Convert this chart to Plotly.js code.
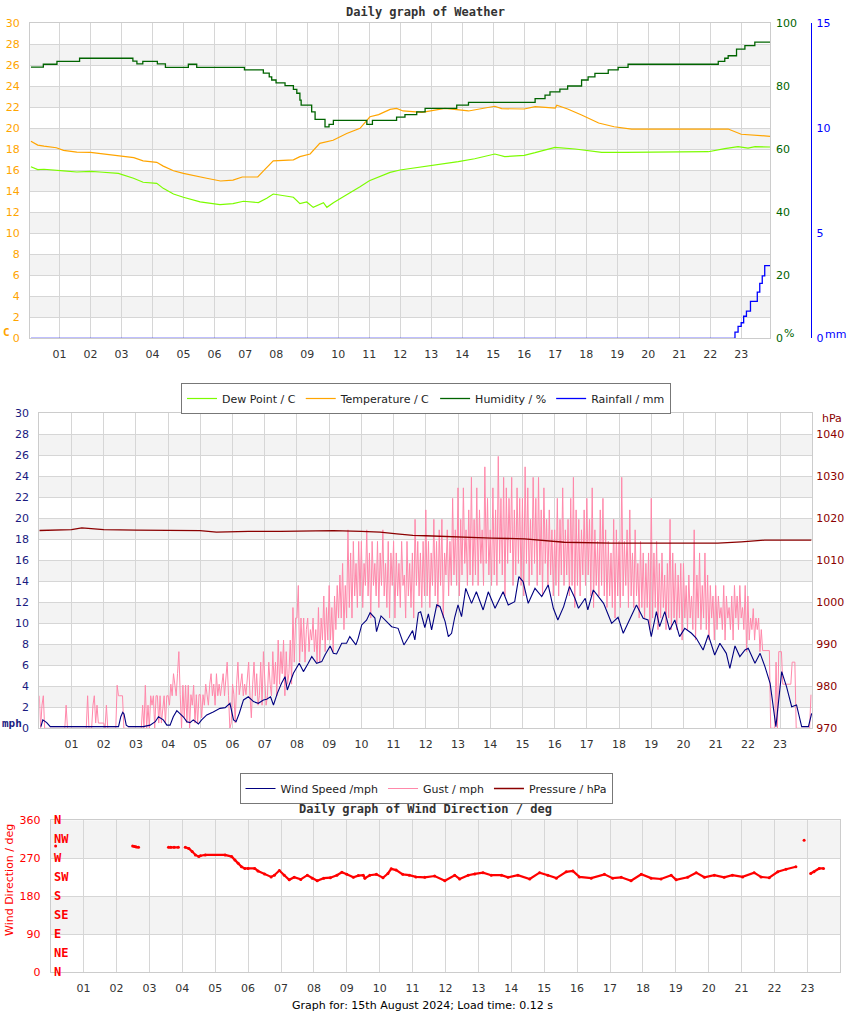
<!DOCTYPE html>
<html>
<head>
<meta charset="utf-8">
<script src="https://cdn.plot.ly/plotly-3.0.1.min.js"></script>
<style>
  html, body { margin: 0; padding: 0; background: #fff; }
  #chart { width: 850px; height: 1017px; }
</style>
</head>
<body>
<div id="chart"></div>
<script>
// hour ticks shared by all three panels
const hourTicks = [1, 2, 3, 4, 5, 6, 7, 8, 9, 10, 11, 12, 13, 14, 15, 16, 17, 18, 19, 20, 21, 22, 23];
const hourLabels = ["01", "02", "03", "04", "05", "06", "07", "08", "09", "10", "11", "12",
  "13", "14", "15", "16", "17", "18", "19", "20", "21", "22", "23"];

// --- weather panel ---
const tempHours = [0.08, 0.3, 0.5, 0.9, 1.13, 1.56, 2.0, 2.3, 2.96, 3.4, 3.7, 4.14, 4.35, 4.68, 5.0, 5.3,
  5.75, 6.2, 6.6, 6.9, 7.4, 7.6, 7.9, 8.55, 8.76, 9.09, 9.2, 9.4, 9.83, 10.27, 10.7, 11.02, 11.3, 11.67,
  11.88, 12.09, 12.7, 13.44, 14.2, 15.05, 15.27, 16.0, 16.35, 17.0, 17.05, 17.4, 17.85, 18.4, 18.9,
  19.46, 20.3, 21.5, 22.58, 23.0, 23.55, 23.93];
const tempValues = [18.76, 18.4, 18.3, 18.15, 17.9, 17.74, 17.7, 17.6, 17.4, 17.2, 16.9, 16.76, 16.4,
  15.96, 15.7, 15.5, 15.24, 14.98, 15.07, 15.36, 15.36, 16.0, 16.9, 17.0, 17.3, 17.55, 17.93, 18.57,
  18.86, 19.5, 20.0, 21.1, 21.3, 21.8, 21.9, 21.65, 21.52, 21.9, 21.65, 22.1, 21.87, 21.84, 22.06,
  21.93, 22.2, 21.84, 21.27, 20.5, 20.15, 19.93, 19.93, 19.93, 19.93, 19.43, 19.3, 19.24];

const dewHours = [0.08, 0.3, 0.5, 0.9, 1.13, 1.56, 2.0, 2.3, 2.9, 3.39, 3.7, 4.14, 4.35, 4.68, 5.0, 5.54,
  6.18, 6.6, 6.94, 7.42, 7.69, 7.9, 8.23, 8.55, 8.76, 8.98, 9.19, 9.52, 9.63, 9.84, 10.16, 10.48, 10.7,
  11.0, 11.34, 11.67, 11.99, 12.74, 13.87, 14.4, 15.05, 15.37, 16.0, 16.35, 16.99, 17.64, 18.5, 19.25,
  21.94, 22.47, 22.9, 23.22, 23.45, 23.93];
const dewValues = [16.34, 16.06, 16.1, 16.03, 15.95, 15.84, 15.9, 15.84, 15.71, 15.24, 14.86, 14.76,
  14.28, 13.74, 13.43, 13.0, 12.73, 12.82, 13.05, 12.92, 13.33, 13.74, 13.55, 13.43, 12.82, 12.98,
  12.47, 12.92, 12.47, 12.92, 13.49, 14.03, 14.44, 15.0, 15.4, 15.8, 16.03, 16.34, 16.82, 17.1, 17.55,
  17.3, 17.43, 17.68, 18.19, 18.03, 17.71, 17.71, 17.77, 18.06, 18.25, 18.12, 18.25, 18.22];

const humHours = [0.08, 0.48, 0.92, 1.65, 3.37, 3.5, 3.69, 4.16, 4.42, 5.16, 5.43, 6.97, 7.58, 7.77,
  7.85, 7.99, 8.28, 8.55, 8.66, 8.76, 8.8, 9.14, 9.25, 9.57, 9.7, 9.84, 10.92, 11.1, 11.34, 11.88,
  12.15, 12.53, 12.8, 13.82, 14.2, 16.35, 16.67, 16.83, 17.15, 17.4, 17.85, 18.06, 18.28, 18.71,
  19.03, 19.35, 22.26, 22.47, 22.58, 22.85, 23.12, 23.44, 23.93];
const humValues = [86.1, 87.0, 87.9, 88.9, 88.0, 87.1, 87.9, 87.1, 86.0, 87.0, 86.0, 85.2, 84.2, 83.0,
  82.0, 81.1, 80.2, 79.0, 77.8, 75.6, 74.0, 71.9, 69.5, 67.1, 67.9, 69.2, 67.9, 69.2, 69.2, 70.2, 71.0,
  71.9, 73.0, 74.0, 74.9, 76.1, 77.2, 78.2, 79.1, 80.1, 82.0, 83.0, 84.1, 85.2, 86.0, 87.0, 87.9, 88.9,
  89.7, 91.8, 92.9, 94.0, 94.0];

const rainHours = [0.08, 22.74, 22.8, 22.9, 23.0, 23.08, 23.17, 23.3, 23.52, 23.6, 23.68, 23.76, 23.93];
const rainValues = [0, 0, 0.29, 0.57, 0.74, 1.05, 1.29, 1.76, 2.2, 2.62, 2.97, 3.46, 3.46];

// --- wind panel ---
const windHours = [0.05, 0.11, 0.23, 0.34, 2.46, 2.53, 2.59, 2.63, 2.7, 2.77, 3.23, 3.44, 3.6, 3.7, 3.85,
  3.96, 4.06, 4.16, 4.27, 4.37, 4.47, 4.58, 4.68, 4.78, 4.94, 5.04, 5.2, 5.4, 5.61, 5.77, 5.92, 6.03,
  6.11, 6.21, 6.34, 6.49, 6.65, 6.8, 6.96, 7.06, 7.18, 7.27, 7.39, 7.52, 7.63, 7.7, 7.89, 8.07, 8.2,
  8.35, 8.46, 8.61, 8.77, 8.87, 9.03, 9.13, 9.23, 9.39, 9.54, 9.64, 9.83, 9.9, 10.01, 10.16, 10.27,
  10.42, 10.47, 10.61, 10.78, 10.94, 11.14, 11.25, 11.32, 11.45, 11.59, 11.66, 11.77, 11.84, 11.97,
  12.08, 12.18, 12.34, 12.44, 12.6, 12.7, 12.8, 12.9, 13.0, 13.11, 13.24, 13.42, 13.57, 13.78, 13.94,
  14.15, 14.4, 14.56, 14.76, 14.89, 15.02, 15.18, 15.39, 15.6, 15.8, 15.96, 16.1, 16.28, 16.46, 16.63,
  16.74, 16.95, 17.03, 17.2, 17.36, 17.52, 17.77, 17.97, 18.13, 18.28, 18.54, 18.75, 18.9, 19.0,
  19.16, 19.26, 19.42, 19.57, 19.73, 19.88, 20.04, 20.25, 20.4, 20.61, 20.77, 20.97, 21.13, 21.33,
  21.44, 21.6, 21.75, 21.91, 22.01, 22.22, 22.38, 22.53, 22.69, 22.87, 23.05, 23.2, 23.36, 23.51,
  23.67, 23.88, 23.98];
const windValues = [0.16, 0.8, 0.54, 0.16, 0.16, 1.1, 1.52, 1.36, 0.3, 0.16, 0.16, 0.3, 0.63, 1.1, 0.8,
  0.3, 0.3, 1.1, 1.68, 1.43, 1.1, 0.63, 0.54, 0.8, 0.41, 0.8, 1.27, 1.56, 1.9, 1.97, 2.38, 0.8,
  0.63, 1.43, 2.7, 3.0, 2.54, 2.38, 2.7, 2.76, 3.0, 2.22, 3.33, 4.29, 4.92, 3.65, 5.24, 6.19, 5.4,
  6.19, 6.83, 6.19, 6.35, 6.98, 7.84, 7.14, 7.08, 8.1, 8.1, 8.73, 7.94, 8.57, 9.84, 10.3, 11.0,
  10.5, 9.2, 10.7, 10.16, 9.68, 9.52, 8.41, 7.94, 8.57, 9.3, 8.41, 11.0, 11.1, 9.6,
  10.9, 9.37, 11.75, 11.6, 10.16, 8.73, 9.05, 10.6, 11.75, 10.63, 13.33, 11.9, 13.0, 11.27, 13.0,
  11.43, 13.0, 11.75, 12.06, 14.44, 13.97, 11.9, 13.33, 12.54, 13.65, 11.43, 10.32, 11.59, 13.5, 12.38,
  11.43, 12.38, 11.27, 13.17, 12.54, 11.9, 10.0, 10.57, 9.05, 10.0, 11.75, 10.48, 10.32, 8.73,
  11.11, 9.68, 11.11, 9.37, 10.32, 8.73, 9.52, 9.05, 8.57, 7.46, 8.89, 6.98, 8.1, 7.14,
  5.71, 7.84, 6.83, 7.46, 7.62, 6.19, 7.14, 5.87, 4.29, 0.16, 5.4, 3.97, 2.06, 2.22,
  0.16, 0.16, 1.43];

// gust, one row per hour, one reading every 2.5 minutes
const gustRows = [
  [3.1, 0, 2.2, 3.1, 0, 0, 0, 0, 0, 0, 0, 0, 0, 0, 0, 0, 0, 0, 0, 0, 2.2, 0, 0, 0],
  [0, 0, 0, 0, 0, 0, 0, 0, 0, 0, 0, 0, 3.1, 0, 0, 0, 2.2, 3.1, 0.5, 2.2, 0.5, 0.5, 0.5, 0.5],
  [0.5, 0, 2.2, 0, 0, 0, 0, 0, 0, 0, 4.1, 3.1, 3.1, 3.1, 3.1, 0, 0, 0, 0, 0, 0, 0, 0, 0],
  [0, 0, 0, 0, 0, 2.2, 0, 4.1, 0, 2.2, 0, 3.1, 2.2, 3.1, 0, 3.1, 3.1, 0.5, 3.1, 0.5, 2.2, 3.1, 0.5, 3.1],
  [3.1, 2.2, 4.2, 3.1, 5.2, 4.2, 3.1, 5.2, 7.3, 3.2, 0, 4.1, 1.0, 4.1, 0.5, 4.1, 0, 3.2, 2.2, 4.1, 0.5, 3.2, 0.5, 3.2],
  [3.2, 1.0, 3.2, 2.2, 4.2, 3.2, 2.2, 4.2, 5.2, 3.1, 4.2, 2.2, 5.2, 3.1, 4.2, 3.1, 4.2, 5.2, 3.1, 5.2, 6.3, 3.1, 0, 0.5],
  [4.2, 3.2, 0.5, 4.2, 6.3, 3.2, 4.2, 5.2, 3.1, 4.2, 3.2, 5.2, 6.3, 3.1, 1.0, 4.2, 6.3, 3.1, 5.2, 2.2, 3.1, 6.3, 2.2, 7.3],
  [4.2, 2.2, 3.1, 6.3, 4.2, 3.1, 7.3, 4.2, 6.3, 3.1, 8.4, 4.2, 7.3, 5.2, 8.4, 3.1, 7.3, 4.2, 5.2, 8.4, 4.2, 11.5, 6.3, 10.5],
  [10.5, 13.6, 6.3, 10.5, 7.3, 10.5, 6.3, 9.4, 10.5, 7.3, 9.4, 8.4, 10.5, 7.3, 9.4, 6.3, 11.5, 6.3, 10.5, 8.4, 12.6, 7.3, 11.5, 8.4],
  [13.6, 8.4, 11.5, 7.3, 12.6, 9.4, 13.6, 10.5, 14.6, 10.5, 15.7, 9.4, 13.6, 10.5, 18.9, 11.5, 16.7, 10.5, 17.8, 12.6, 15.7, 11.5, 17.8, 12.6],
  [17.8, 11.5, 15.7, 13.6, 18.9, 12.6, 16.7, 10.5, 17.8, 13.6, 15.7, 12.6, 17.8, 11.5, 16.7, 13.6, 18.9, 12.6, 15.7, 11.5, 17.8, 10.5, 16.7, 13.6],
  [17.8, 10.5, 16.7, 12.6, 15.7, 11.5, 17.8, 13.6, 14.6, 10.5, 17.8, 12.6, 15.7, 11.5, 16.7, 10.5, 19.9, 13.6, 17.8, 12.6, 16.7, 11.5, 17.8, 12.6],
  [20.8, 12.6, 17.8, 11.5, 16.7, 13.6, 19.9, 12.6, 17.8, 11.5, 18.9, 13.6, 19.9, 10.5, 16.7, 14.6, 18.9, 12.6, 17.8, 13.6, 21.9, 14.6, 18.9, 13.6],
  [22.9, 12.6, 19.9, 14.6, 22.9, 15.7, 18.9, 13.6, 20.8, 14.6, 23.9, 13.6, 19.9, 14.6, 22.9, 13.6, 20.8, 15.7, 18.9, 13.6, 24.9, 15.7, 21.9, 14.6],
  [18.9, 13.6, 22.9, 14.6, 20.8, 13.6, 25.9, 15.7, 21.9, 14.6, 23.9, 12.6, 22.9, 15.7, 21.9, 16.7, 23.9, 13.6, 20.8, 14.6, 22.9, 15.7, 21.9, 13.6],
  [21.9, 12.6, 24.9, 15.7, 22.9, 13.6, 19.9, 14.6, 23.9, 15.7, 21.9, 13.6, 23.9, 14.6, 20.8, 12.6, 22.9, 15.7, 19.9, 13.6, 20.8, 14.6, 18.9, 12.6],
  [18.9, 13.6, 21.9, 12.6, 19.9, 14.6, 22.9, 13.6, 18.9, 14.6, 19.9, 12.6, 21.9, 13.6, 23.9, 11.5, 20.8, 13.6, 19.9, 12.6, 18.9, 14.6, 20.8, 13.6],
  [21.9, 14.6, 19.9, 12.6, 22.9, 11.5, 18.9, 13.6, 17.8, 12.6, 20.8, 13.6, 21.9, 12.6, 18.9, 11.5, 17.8, 12.6, 16.7, 11.5, 19.9, 10.5, 18.9, 12.6],
  [17.8, 11.5, 23.9, 12.6, 17.8, 13.6, 18.9, 11.5, 20.8, 12.6, 16.7, 11.5, 18.9, 12.6, 15.7, 10.5, 17.8, 11.5, 16.7, 10.5, 15.7, 11.5, 16.7, 9.4],
  [21.9, 10.5, 16.7, 11.5, 17.8, 9.4, 15.7, 10.5, 16.7, 11.5, 14.6, 9.4, 15.7, 10.5, 19.9, 9.4, 16.7, 10.5, 15.7, 9.4, 14.6, 10.5, 15.7, 8.4],
  [15.7, 10.5, 13.6, 9.4, 14.6, 10.5, 12.6, 9.4, 18.9, 8.4, 14.6, 10.5, 16.7, 9.4, 13.6, 10.5, 16.7, 9.4, 14.6, 8.4, 13.6, 10.5, 12.6, 8.4],
  [13.6, 9.4, 12.6, 10.5, 11.5, 9.4, 13.6, 8.4, 12.6, 10.5, 11.5, 9.4, 12.6, 8.4, 13.6, 10.5, 12.6, 9.4, 13.6, 10.5, 11.5, 9.4, 13.6, 7.3],
  [12.6, 8.4, 10.5, 9.4, 11.4, 8.4, 10.5, 9.4, 10.5, 7.3, 9.4, 7.4, 7.4, 7.4, 7.4, 7.4, 7.4, 0, 0, 0, 0, 6.3, 0, 7.3],
  [7.3, 7.3, 4.2, 4.2, 4.2, 4.2, 4.2, 4.2, 4.2, 6.3, 6.3, 6.3, 0, 0, 0, 0, 0, 0, 0, 0, 0, 0, 0, 3.2]
];

const presHours = [0, 1.0, 1.32, 2.0, 3.0, 4.0, 4.99, 5.5, 6.5, 7.5, 8.5, 9.13, 10.0, 10.58, 11.1, 11.6,
  12.0, 13.0, 14.04, 15.07, 16.3, 17.75, 19.0, 20.0, 21.07, 21.8, 22.52, 23.97];
const presValues = [1017.1, 1017.3, 1017.7, 1017.3, 1017.2, 1017.2, 1017.05, 1016.7, 1016.9, 1016.9,
  1017.0, 1017.05, 1016.9, 1016.7, 1016.3, 1015.95, 1015.85, 1015.5, 1015.3, 1015.1, 1014.3, 1014.1,
  1014.1, 1014.1, 1014.1, 1014.4, 1014.8, 1014.8];

// --- wind direction panel (null = no reading) ---
const dirHours = [0.15, 0.2, 2.49, 2.55, 2.6, 2.67, 2.7, 3.58, 3.65, 3.75, 3.88, 3.95, 4.09, 4.2, 4.3, 4.4,
  4.5, 4.55, 4.7, 5.3, 5.5, 5.6, 5.7, 5.8, 5.9, 6.0, 6.2, 6.3, 6.5, 6.7, 6.8, 6.95, 7.1, 7.25, 7.4, 7.6,
  7.8, 7.95, 8.1, 8.3, 8.5, 8.7, 8.85, 9.0, 9.2, 9.35, 9.5, 9.55, 9.7, 9.9, 10.1, 10.25, 10.35, 10.5,
  10.7, 10.9, 11.1, 11.37, 11.67, 11.98, 12.28, 12.43, 12.69, 12.89, 13.14, 13.39, 13.7, 13.9, 14.2,
  14.56, 14.86, 15.11, 15.37, 15.67, 15.87, 16.07, 16.43, 16.83, 17.08, 17.34, 17.64, 17.95, 18.25,
  18.55, 18.86, 19.01, 19.36, 19.62, 19.87, 20.17, 20.47, 20.72, 21.03, 21.38, 21.59, 21.84, 22.1,
  22.35, 22.65, 22.75, 22.9, 22.95, 23.1, 23.2, 23.36, 23.49];
const dirValues = [299, null, 299, 298, 297, 296, null, 296, 296, 296, 296, null, 296, 293, 286, 278,
  274, 276, 278, 278, 274, 266, 258, 250, 246, 246, 246, 240, 233, 226, 230, 241, 230, 219, 225, 220,
  230, 223, 217, 223, 224, 230, 237, 232, 225, 229, 230, 223, 230, 232, 224, 234, 245, 242,
  232, 230, 226, 225, 228, 217, 230, 221, 230, 233, 236, 230, 230, 225, 230,
  221, 236, 230, 223, 238, 240, 226, 223, 232, 223, 225, 217, 232, 223,
  221, 230, 219, 225, 236, 225, 230, 225, 230, 226, 236, 226, 224, 238,
  244, 250, null, 313, null, 234, 238, 246, 246];
const compassVals = [0, 45, 90, 135, 180, 225, 270, 315, 360];
const compassText = ["N", "NE", "E", "SE", "S", "SW", "W", "NW", "N"];

function weatherGraph() {
  const W = 850, H = 1017;
  const fx = (x) => x / W;
  const fy = (y) => 1 - y / H;
  const sans = "DejaVu Sans";
  const mono = "DejaVu Sans Mono";
  const gridColor = "#d6d6d6";
  const bandColor = "#f3f3f3";

  const gustHours = [];
  const gustValues = [];
  gustRows.forEach((row, h) => row.forEach((v, i) => {
    gustHours.push(h + i / row.length);
    gustValues.push(v);
  }));

  const traces = [
    { x: dewHours, y: dewValues, name: "Dew Point / C", type: "scatter", mode: "lines",
      line: { color: "#7cfc00", width: 1.2 }, xaxis: "x", yaxis: "y", legend: "legend" },
    { x: tempHours, y: tempValues, name: "Temperature / C", type: "scatter", mode: "lines",
      line: { color: "#ffa500", width: 1.2 }, xaxis: "x", yaxis: "y", legend: "legend" },
    { x: humHours, y: humValues, name: "Humidity / %", type: "scatter", mode: "lines",
      line: { color: "#006400", width: 1.3, shape: "hv" }, xaxis: "x", yaxis: "y2", legend: "legend" },
    { x: rainHours, y: rainValues, name: "Rainfall / mm", type: "scatter", mode: "lines",
      line: { color: "#0000ff", width: 1.3, shape: "hv" }, xaxis: "x", yaxis: "y3", legend: "legend" },
    { x: gustHours, y: gustValues, name: "Gust / mph", type: "scatter", mode: "lines",
      line: { color: "#ff88aa", width: 1 }, xaxis: "x2", yaxis: "y4", legend: "legend2", legendrank: 2 },
    { x: windHours, y: windValues, name: "Wind Speed /mph", type: "scatter", mode: "lines",
      line: { color: "#000080", width: 1.1 }, xaxis: "x2", yaxis: "y4", legend: "legend2", legendrank: 1 },
    { x: presHours, y: presValues, name: "Pressure / hPa", type: "scatter", mode: "lines",
      line: { color: "#8b0000", width: 1.3 }, xaxis: "x2", yaxis: "y5", legend: "legend2", legendrank: 3 },
    { x: dirHours, y: dirValues, name: "Wind Direction", type: "scatter", mode: "lines+markers",
      line: { color: "#ff0000", width: 2.2 }, marker: { color: "#ff0000", size: 3 },
      xaxis: "x3", yaxis: "y6", showlegend: false }
  ];

  const tickFont = (color) => ({ family: sans, size: 11, color: color });

  const hourAxis = (domain, anchor, range) => ({
    domain: domain, anchor: anchor, range: range,
    tickvals: hourTicks, ticktext: hourLabels,
    showgrid: true, gridcolor: gridColor, gridwidth: 1, zeroline: false,
    showline: true, mirror: true, linecolor: "#cccccc", linewidth: 1,
    ticks: "", ticklabelstandoff: 5, tickfont: tickFont("#333333"), fixedrange: true
  });

  const valueAxis = (domain, anchor, range, dtick, color) => ({
    domain: domain, anchor: anchor, range: range, dtick: dtick,
    showgrid: true, gridcolor: gridColor, gridwidth: 1, zeroline: false,
    showline: true, mirror: true, linecolor: "#cccccc", linewidth: 1,
    ticks: "", ticklabelstandoff: 7, tickfont: tickFont(color), fixedrange: true
  });

  // alternating background bands
  const shapes = [];
  const stripeLows = [2, 6, 10, 14, 18, 22, 26];
  stripeLows.forEach((lo) => shapes.push({
    type: "rect", xref: "x domain", yref: "y", x0: 0, x1: 1, y0: lo, y1: lo + 2,
    fillcolor: bandColor, line: { width: 0 }, layer: "below"
  }));
  stripeLows.forEach((lo) => shapes.push({
    type: "rect", xref: "x2 domain", yref: "y4", x0: 0, x1: 1, y0: lo, y1: lo + 2,
    fillcolor: bandColor, line: { width: 0 }, layer: "below"
  }));
  [90, 270].forEach((lo) => shapes.push({
    type: "rect", xref: "x3 domain", yref: "y6", x0: 0, x1: 1, y0: lo, y1: lo + 90,
    fillcolor: bandColor, line: { width: 0 }, layer: "below"
  }));

  const label = (text, x, y, font, extra) => Object.assign({
    text: text, xref: "paper", yref: "paper", x: fx(x), y: fy(y),
    xanchor: "center", yanchor: "middle", showarrow: false, font: font
  }, extra || {});

  const titleFont = { family: mono, size: 12, weight: "bold", color: "#333333" };

  // compass point names on the inner left edge of the direction panel
  const compassLabels = compassVals.map((v, i) => ({
    text: compassText[i], xref: "x3 domain", yref: "y6", x: 0.002, y: v,
    xanchor: "left", yanchor: "middle", showarrow: false,
    font: { family: mono, size: 12, weight: "bold", color: "#ff0000" }
  }));

  const d1y = [fy(338.3), fy(23.3)];
  const d2y = [fy(728.3), fy(413.3)];
  const d3y = [fy(972.3), fy(820.3)];

  const legendBase = {
    orientation: "h", xanchor: "center", yanchor: "top", x: fx(426),
    bgcolor: "#ffffff", bordercolor: "#777777", borderwidth: 1,
    font: { family: sans, size: 11, color: "#222222" }, itemwidth: 30,
    itemclick: false, itemdoubleclick: false
  };

  const layout = {
    width: W, height: H, autosize: false,
    margin: { l: 0, r: 0, t: 0, b: 0 },
    paper_bgcolor: "#ffffff", plot_bgcolor: "#ffffff",
    showlegend: true,
    legend: Object.assign({}, legendBase, { y: fy(383) }),
    legend2: Object.assign({}, legendBase, { y: fy(773) }),

    xaxis: hourAxis([fx(30), fx(770)], "y", [0.05, 23.93]),
    yaxis: valueAxis(d1y, "x", [0, 30], 2, "#ffa500"),
    yaxis2: {
      overlaying: "y", side: "right", anchor: "x", range: [0, 100], dtick: 20,
      showgrid: false, zeroline: false, showline: false, ticks: "", ticklabelstandoff: 5,
      tickfont: tickFont("#006400"), fixedrange: true
    },
    yaxis3: {
      overlaying: "y", side: "right", anchor: "free", position: fx(810.7), range: [0, 15],
      tickvals: [0, 5, 10, 15], showgrid: false, zeroline: false,
      showline: true, linecolor: "#0000ff", linewidth: 1.5, ticks: "", ticklabelstandoff: 2,
      tickfont: tickFont("#0000ff"), fixedrange: true
    },

    xaxis2: hourAxis([fx(39.3), fx(812.3)], "y4", [0, 24]),
    yaxis4: valueAxis(d2y, "x2", [0, 30], 2, "#1a1a80"),
    yaxis5: {
      overlaying: "y4", side: "right", anchor: "x2", range: [970, 1045],
      tickvals: [970, 980, 990, 1000, 1010, 1020, 1030, 1040],
      showgrid: false, zeroline: false, showline: false, ticks: "", ticklabelstandoff: 3,
      tickfont: tickFont("#8b0000"), fixedrange: true
    },

    xaxis3: hourAxis([fx(50.7), fx(840.3)], "y6", [0, 24]),
    yaxis6: Object.assign(valueAxis(d3y, "x3", [0, 360], 90, "#ff0000"),
      { tickvals: [0, 90, 180, 270, 360] }),

    shapes: shapes,
    annotations: [
      label("Daily graph of Weather", 425, 12, titleFont),
      label("Daily graph of Wind Direction / deg", 425, 809, titleFont),
      label("C", 6, 332, { family: mono, size: 11, weight: "bold", color: "#ffa500" }),
      label("%", 789, 333, { family: sans, size: 11, color: "#006400" }),
      label("mm", 835, 334, { family: sans, size: 11, color: "#0000ff" }),
      label("hPa", 832, 418, { family: sans, size: 11, color: "#8b0000" }),
      label("mph", 12, 723, { family: mono, size: 11, weight: "bold", color: "#1a1a80" }),
      label("Wind Direction / deg", 9, 880, { family: sans, size: 11, color: "#ff0000" },
        { textangle: -90 }),
      label("Graph for: 15th August 2024; Load time: 0.12 s", 422, 1005,
        { family: sans, size: 11, color: "#000000" })
    ].concat(compassLabels)
  };

  Plotly.newPlot("chart", traces, layout, { staticPlot: true, displayModeBar: false });
}

window.addEventListener("load", weatherGraph);
</script>
</body>
</html>
